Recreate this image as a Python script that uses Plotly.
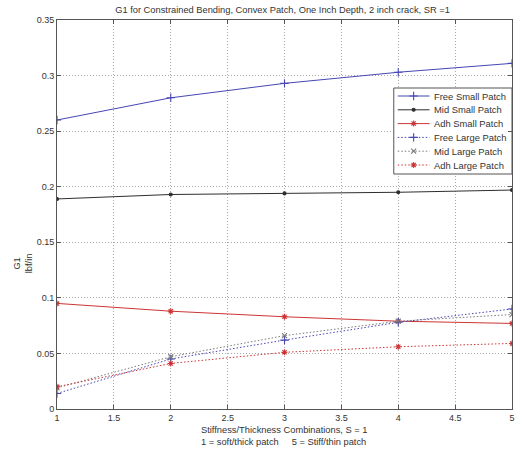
import plotly.graph_objects as go

# ---------------- data ----------------
x_vals = [1, 2, 3, 4, 5]
free_small = [0.260, 0.280, 0.293, 0.303, 0.311]
mid_small = [0.189, 0.193, 0.194, 0.195, 0.197]
adh_small = [0.095, 0.088, 0.083, 0.079, 0.077]
free_large = [0.014, 0.045, 0.062, 0.078, 0.090]
mid_large = [0.019, 0.047, 0.066, 0.079, 0.085]
adh_large = [0.020, 0.041, 0.051, 0.056, 0.059]

series_names = ["Free Small Patch", "Mid Small Patch", "Adh Small Patch",
                "Free Large Patch", "Mid Large Patch", "Adh Large Patch"]
x_ticks = [1, 1.5, 2, 2.5, 3, 3.5, 4, 4.5, 5]
y_ticks = [0, 0.05, 0.1, 0.15, 0.2, 0.25, 0.3, 0.35]
x_tick_labels = ["1", "1.5", "2", "2.5", "3", "3.5", "4", "4.5", "5"]
y_tick_labels = ["0", "0.05", "0.1", "0.15", "0.2", "0.25", "0.3", "0.35"]

# ---------------- styles ----------------
BLUE = "#4646b4"
BLACK = "#2e2e2e"
RED = "#cc3535"
GRAY = "#7a7a7a"
TXT = "#333333"
FONT = "Liberation Sans, Arial, sans-serif"
DOT = "1.5px,2px"

styles = [
    dict(color=BLUE, dash="solid", symbol="cross-thin", size=6),
    dict(color=BLACK, dash="solid", symbol="circle", size=3),
    dict(color=RED, dash="solid", symbol="asterisk", size=5),
    dict(color=BLUE, dash=DOT, symbol="cross-thin", size=6),
    dict(color=GRAY, dash=DOT, symbol="x-thin", size=5),
    dict(color=RED, dash=DOT, symbol="asterisk", size=5),
]
data = [free_small, mid_small, adh_small, free_large, mid_large, adh_large]

W, H = 518, 455
ML, MR, MT, MB = 57, 3, 20, 46
PW, PH = W - ML - MR, H - MT - MB


def px_x(p):
    return (p - ML) / PW


def px_y(p):
    return (H - MB - p) / PH


fig = go.Figure()
for name, ys, st in zip(series_names, data, styles):
    fig.add_trace(go.Scatter(
        x=x_vals, y=ys, name=name, mode="lines+markers", showlegend=False,
        line=dict(color=st["color"], width=1, dash=st["dash"]),
        marker=dict(symbol=st["symbol"], size=st["size"], color=st["color"],
                    line=dict(color=st["color"], width=1.1)),
    ))

# ---------------- legend (drawn on an overlay axis in paper units) ----------------
leg_left, leg_right, leg_top, leg_bottom = 396, 515, 88, 174
leg_first_y, leg_step = 96, 13.8
leg_line_x0, leg_line_x1, leg_text_x = 400, 432, 434

bx = [px_x(leg_left), px_x(leg_right), px_x(leg_right), px_x(leg_left), px_x(leg_left)]
by = [px_y(leg_top), px_y(leg_top), px_y(leg_bottom), px_y(leg_bottom), px_y(leg_top)]
fig.add_trace(go.Scatter(x=bx, y=by, xaxis="x2", yaxis="y2", mode="lines",
                         fill="toself", fillcolor="white",
                         line=dict(color="#555555", width=1),
                         showlegend=False, hoverinfo="skip"))
for i, (name, st) in enumerate(zip(series_names, styles)):
    yy = px_y(leg_first_y + i * leg_step)
    fig.add_trace(go.Scatter(
        x=[px_x(leg_line_x0), px_x(leg_line_x1)], y=[yy, yy], xaxis="x2", yaxis="y2",
        mode="lines", line=dict(color=st["color"], width=1, dash=st["dash"]),
        showlegend=False, hoverinfo="skip"))
    fig.add_trace(go.Scatter(
        x=[px_x((leg_line_x0 + leg_line_x1) / 2)], y=[yy], xaxis="x2", yaxis="y2",
        mode="markers",
        marker=dict(symbol=st["symbol"], size=st["size"], color=st["color"],
                    line=dict(color=st["color"], width=1.1)),
        showlegend=False, hoverinfo="skip"))
    fig.add_annotation(text=name, xref="paper", yref="paper", x=px_x(leg_text_x), y=yy,
                       xanchor="left", yanchor="middle", showarrow=False,
                       font=dict(size=9.4, color=TXT, family=FONT))

axis_common = dict(
    showline=True, linecolor="#555555", linewidth=1, mirror="ticks",
    ticks="inside", ticklen=4, tickcolor="#555555",
    showgrid=True, gridcolor="#a8a8a8", griddash="1px,2px", gridwidth=1,
    zeroline=False, tickfont=dict(size=9, color=TXT, family=FONT),
)

fig.update_layout(
    width=W, height=H,
    margin=dict(l=ML, r=MR, t=MT, b=MB),
    paper_bgcolor="white", plot_bgcolor="white",
    font=dict(family=FONT, size=9, color=TXT),
    title=dict(text="G1 for Constrained Bending, Convex Patch, One Inch Depth, 2 inch crack, SR =1",
               xref="paper", x=px_x(284), xanchor="center",
               yref="container", y=1 - 10 / H, yanchor="middle",
               font=dict(size=9.3, color=TXT, family=FONT)),
    xaxis=dict(range=[1, 5], tickvals=x_ticks, ticktext=x_tick_labels, **axis_common),
    yaxis=dict(range=[0, 0.35], tickvals=y_ticks, ticktext=y_tick_labels, **axis_common),
    xaxis2=dict(overlaying="x", range=[0, 1], visible=False, fixedrange=True),
    yaxis2=dict(overlaying="y", range=[0, 1], visible=False, fixedrange=True),
    showlegend=False,
)

fig.add_annotation(text="G1<br>lbf/in", xref="paper", yref="paper",
                   x=px_x(23), y=px_y(263), textangle=-90, showarrow=False,
                   xanchor="center", yanchor="middle",
                   font=dict(size=9.3, color=TXT, family=FONT))
fig.add_annotation(text="Stiffness/Thickness Combinations, S = 1",
                   xref="paper", yref="paper", x=px_x(285), y=px_y(430),
                   xanchor="center", yanchor="middle", showarrow=False,
                   font=dict(size=9.3, color=TXT, family=FONT))
fig.add_annotation(text="1 = soft/thick patch     5 = Stiff/thin patch",
                   xref="paper", yref="paper", x=px_x(285), y=px_y(442),
                   xanchor="center", yanchor="middle", showarrow=False,
                   font=dict(size=9.3, color=TXT, family=FONT))

fig.write_html("out.html", post_script="document.body.style.margin='0';",
               config={"displayModeBar": False})
